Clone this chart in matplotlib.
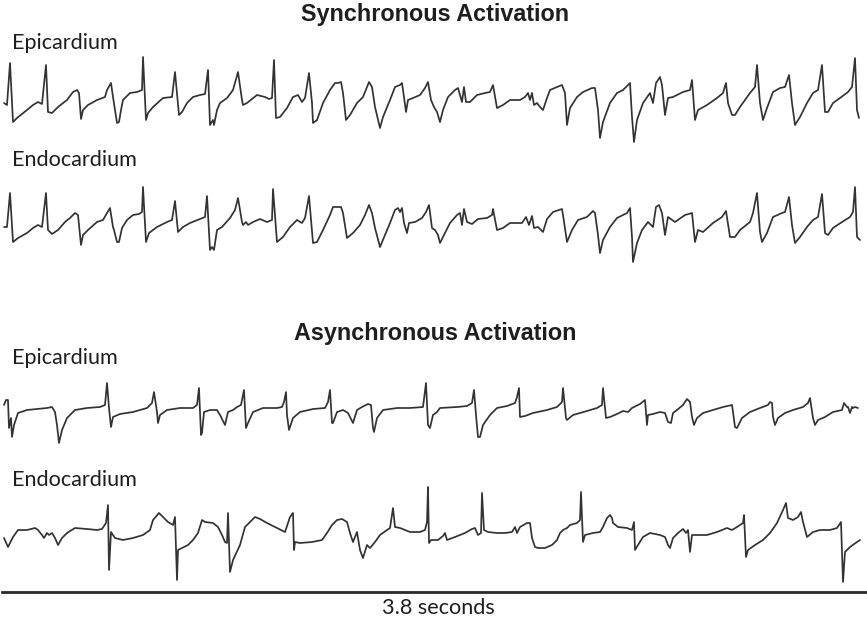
import matplotlib
matplotlib.use("Agg")
import matplotlib.pyplot as plt
from matplotlib.lines import Line2D

# ---------------------------------------------------------------------------
# Recorded electrograms (sample index, amplitude in arbitrary units)
# ---------------------------------------------------------------------------
sync_epi_t = [4, 7, 10, 13, 17, 27, 33, 38, 42, 46, 48, 52, 58, 67, 73, 77, 79, 81, 83, 88,
              97, 105, 107, 111, 113, 117, 119, 121, 123, 130, 137, 142, 143, 146, 148, 153,
              163, 172, 175, 179, 182, 187, 193, 200, 205, 208, 210, 213, 214, 217, 220, 227,
              233, 238, 242, 243, 247, 257, 265, 269, 272, 274, 276, 280, 287, 293, 298, 302,
              305, 309, 312, 313, 317, 323, 330, 335, 338, 341, 343, 346, 350, 357, 363, 367,
              369, 372, 375, 380, 383, 390, 395, 400, 402, 404, 406, 408, 413, 420, 425, 428,
              431, 434, 437, 440, 443, 448, 455, 458, 462, 464, 466, 470, 477, 485, 490, 493,
              497, 503, 510, 520, 525, 528, 530, 532, 534, 537, 540, 543, 547, 550, 557, 562,
              565, 567, 570, 577, 583, 592, 595, 598, 600, 603, 610, 617, 623, 630, 632, 634,
              637, 643, 650, 653, 656, 660, 662, 665, 668, 673, 683, 690, 692, 695, 698, 707,
              717, 723, 726, 728, 732, 735, 740, 750, 755, 757, 760, 763, 767, 773, 780, 785,
              789, 792, 795, 800, 807, 813, 818, 822, 825, 828, 833, 840, 848, 852, 855, 857,
              859]
sync_epi_v = [-3, -5, 37, -22, -18, -10, -5, -2, -4, 35, -12, -13, -7, 0, 8, 10, 7, -19, -10, -5,
              0, 3, 10, 17, 3, -23, -22, -10, 0, 7, 8, 10, 43, -20, -13, -7,
              2, 3, 28, -15, -12, -3, 3, 5, 6, 30, -25, -20, -25, -10, -3, 2,
              10, 28, 0, -5, -3, 5, 3, 1, 2, 40, -18, -17, -8, 3, 5, -2,
              2, 27, -3, -23, -20, -3, 10, 17, 17, 18, 7, -20, -15, -3, 3, 13,
              18, 13, -7, -28, -17, 0, 13, 15, 17, 3, -12, 0, 2, 5, 12, 18,
              0, -7, -12, -22, -10, 3, 10, 12, -2, 13, -2, -2, 5, 7, 8, 15,
              -8, -5, 0, 0, 3, 7, 0, 7, -5, -3, -7, -10, 2, 10, 13, 15,
              7, -25, -8, 3, 8, 12, 12, -10, -38, -22, -3, 7, 10, 17, -17, -42,
              -20, -3, 7, -3, 17, 23, 15, -15, 2, 3, 8, 10, 20, -20, -10, -5,
              2, 7, 17, -3, -15, -15, -7, 7, 13, 35, -3, -20, -8, 8, 12, 13,
              25, -3, -25, -17, -3, 7, 10, 35, -12, -12, -3, 2, 8, 13, 42, -10,
              -18]

sync_endo_t = [4, 7, 10, 13, 18, 27, 33, 38, 42, 46, 48, 52, 58, 65, 70, 75, 78, 81, 83, 88,
               97, 103, 107, 110, 113, 114, 117, 119, 122, 127, 133, 139, 142, 143, 146, 149,
               157, 167, 172, 175, 178, 183, 190, 200, 205, 207, 210, 212, 214, 217, 222, 230,
               235, 238, 242, 243, 246, 248, 253, 260, 267, 272, 273, 277, 283, 290, 297, 302,
               305, 309, 313, 317, 323, 330, 333, 338, 341, 343, 347, 353, 360, 365, 369, 372,
               375, 380, 385, 390, 395, 398, 400, 402, 404, 407, 409, 415, 422, 426, 429, 432,
               435, 438, 440, 443, 450, 457, 460, 462, 464, 467, 472, 478, 487, 492, 493, 497,
               503, 510, 522, 526, 529, 532, 534, 538, 543, 547, 553, 562, 563, 567, 572, 578,
               587, 593, 595, 598, 600, 603, 610, 617, 627, 630, 632, 633, 637, 642, 648, 653,
               656, 659, 662, 665, 668, 675, 685, 692, 695, 698, 703, 713, 722, 726, 730, 735,
               740, 750, 753, 757, 760, 762, 767, 773, 782, 785, 789, 792, 795, 800, 807, 813,
               818, 822, 825, 828, 833, 842, 850, 853, 855, 857, 860]
sync_endo_v = [-2, -2, 32, -17, -13, -8, -3, 0, -2, 32, -5, -9, -5, 3, 7, 12, 10, -20, -10, -5,
               3, 5, 12, 17, -2, -5, -17, -17, -3, 5, 10, 11, 13, 38, -17, -8,
               -2, 3, 5, 24, -7, -2, 2, 6, 8, 29, -25, -22, -25, -5, -2, 7,
               15, 27, 3, 0, 3, 0, 3, 6, 3, 5, 36, -17, -12, -2, 5, 2,
               7, 29, -18, -17, -5, 10, 18, 18, 18, 12, -13, -8, 0, 10, 20, 12,
               -3, -22, -10, 2, 15, 17, 13, 17, 2, -8, 2, 3, 7, 13, 20, -3,
               -5, -10, -18, -12, 2, 10, 12, 0, 16, 3, 1, 6, 7, 10, 16, -5,
               -3, 2, 2, 8, 0, 9, -3, -2, -7, 6, 13, 16, 10, -17, -5, 5,
               8, 14, 12, -10, -28, -15, -2, 7, 12, 17, -12, -37, -18, -5, 3, -2,
               18, 20, 12, -10, 8, 3, 10, 12, -17, -5, -7, 2, 8, 14, -12, -12,
               -5, 3, 12, 32, -7, -17, -8, 8, 12, 13, 28, 0, -18, -12, -2, 5,
               8, 31, -8, -10, -3, 3, 8, 13, 38, -12, -15]

async_epi_t = [4, 6, 8, 9, 11, 12, 14, 18, 27, 37, 47, 52, 55, 57, 59, 62, 67, 75, 87, 100,
               105, 107, 109, 111, 113, 120, 133, 147, 152, 154, 157, 158, 160, 167, 180, 193,
               197, 199, 201, 202, 204, 210, 217, 220, 225, 228, 233, 237, 241, 244, 246, 248,
               253, 263, 277, 282, 284, 286, 287, 289, 293, 300, 313, 325, 328, 330, 332, 333,
               337, 343, 348, 353, 357, 362, 368, 371, 373, 374, 377, 383, 397, 410, 423, 426,
               428, 430, 433, 437, 440, 457, 467, 472, 474, 476, 478, 480, 483, 490, 497, 507,
               515, 517, 519, 520, 525, 533, 547, 557, 562, 563, 566, 567, 573, 587, 597, 602,
               603, 606, 610, 617, 623, 628, 632, 640, 645, 647, 648, 653, 660, 665, 668, 671,
               673, 677, 683, 687, 690, 692, 694, 697, 703, 713, 723, 732, 733, 735, 737, 742,
               750, 760, 768, 770, 772, 773, 775, 778, 785, 793, 803, 808, 810, 813, 815, 818,
               825, 833, 842, 844, 847, 848, 850, 852, 853, 855, 858]
async_epi_v = [5, 10, 10, -18, -8, -27, -15, -3, 0, 1, 2, 3, -2, -15, -33, -20, -8, 0, 2, 3,
               5, 27, 2, -17, -7, -4, -2, 2, 7, 18, -2, -13, -5, 0, 2, 2,
               5, 22, -25, -23, -2, 0, 0, -5, -15, -2, 0, 3, 5, 20, -18, -13,
               -2, 2, 2, 3, 8, 18, -5, -20, -8, -2, 1, 2, 8, 20, -13, -13,
               -2, 0, -3, -13, 0, 3, 6, 5, -18, -22, -8, 0, 2, 2, 3, 27,
               -15, -18, -5, -2, 2, 3, 4, 7, 20, -5, -27, -27, -15, -5, 2, 4,
               7, 13, 22, -7, -6, -3, 0, 3, 8, 22, -8, -10, -5, -1, 2, 5,
               22, -8, -7, -4, -1, -2, 2, 6, 10, -15, -5, -4, -2, -3, -12, -13,
               -3, 0, 5, 11, 8, -7, -15, -8, -3, 0, 3, 5, -2, -17, -18, -8,
               -2, 2, 5, 8, 7, -7, -15, -8, -3, 0, 3, 7, 12, -8, -15, -10,
               -7, -2, 0, 7, 3, 3, -3, 3, 2, 3, 2]

async_endo_t = [4, 8, 13, 18, 27, 35, 38, 42, 44, 47, 49, 52, 55, 58, 62, 67, 75, 87, 97, 102,
                106, 108, 109, 111, 115, 123, 133, 143, 150, 153, 159, 163, 168, 173, 175, 177,
                178, 182, 188, 193, 198, 202, 205, 213, 218, 222, 225, 227, 228, 230, 233, 240,
                245, 250, 255, 260, 267, 277, 285, 290, 293, 294, 295, 300, 312, 322, 327, 332,
                337, 342, 347, 350, 353, 357, 360, 363, 367, 370, 375, 380, 387, 390, 393, 395,
                400, 410, 420, 425, 427, 428, 429, 431, 438, 443, 445, 447, 455, 465, 472, 475,
                478, 481, 482, 484, 488, 497, 505, 512, 515, 517, 520, 527, 530, 532, 535, 538,
                545, 552, 557, 560, 563, 567, 570, 577, 580, 581, 583, 585, 593, 600, 603, 607,
                610, 612, 613, 618, 627, 632, 634, 635, 638, 643, 650, 660, 665, 668, 670, 673,
                678, 683, 686, 688, 690, 692, 697, 707, 717, 727, 732, 737, 743, 744, 746, 748,
                755, 763, 770, 777, 783, 786, 788, 793, 798, 801, 803, 807, 813, 820, 830, 837,
                841, 843, 845, 850, 857, 860]
async_endo_v = [-8, -17, -7, 0, 0, 2, 0, -5, -8, -3, -5, -3, -8, -15, -8, -3, 2, 1, 0, 1,
                7, 25, -40, -2, -8, -10, -8, -5, 0, 10, 17, 13, 8, 5, 13, -50,
                -20, -18, -15, -10, -3, 10, 8, 7, 3, -5, -12, -13, 17, -42, -30, -15,
                3, 8, 13, 11, 7, 2, -2, 13, 17, -20, -12, -13, -12, -10, -3, 5,
                10, 11, 8, -3, -12, -2, -20, -28, -15, -18, -12, -5, 0, 2, 22, 3,
                2, -2, -2, 0, 8, 43, -13, -10, -10, -6, -3, -10, -7, -3, 1, 2,
                -5, -3, 37, 0, -2, -3, -3, -2, 3, -3, 3, 7, 7, -8, -17, -18,
                -18, -15, -10, -3, 0, 2, 5, 7, 10, 38, -12, -5, -3, -2, 3, 12,
                15, 12, 7, 3, 2, 0, 8, -20, -15, -7, -3, -5, -7, -15, -18, -8,
                -3, 1, -3, 0, -22, -5, -5, -5, -2, 2, 0, 3, 7, 15, -27, -20,
                -15, -10, -3, 7, 20, 27, 12, 10, 13, 18, 8, -7, -2, 0, 0, 2,
                8, -52, -22, -17, -12, -10]

section_titles = ["Synchronous Activation", "Asynchronous Activation"]
site_labels = ["Epicardium", "Endocardium", "Epicardium", "Endocardium"]
duration_label = "3.8 seconds"

# ---------------------------------------------------------------------------
# Figure layout (pixel geometry of a 867 x 621 canvas)
# ---------------------------------------------------------------------------
W, H = 867, 621
fig = plt.figure(figsize=(W / 100, H / 100), dpi=100)
fig.patch.set_facecolor("white")

TRACE_COLOR = "#333333"
LABEL_FONT = ["Lato", "DejaVu Sans"]
TITLE_FONT = ["Liberation Sans", "DejaVu Sans"]


def trace_axes(top_px, bottom_px, baseline_px):
    ax = fig.add_axes([0, 1 - bottom_px / H, 1, (bottom_px - top_px) / H])
    ax.set_xlim(0, W)
    ax.set_ylim(baseline_px - bottom_px, baseline_px - top_px)
    ax.axis("off")
    return ax


traces = [
    (sync_epi_t, sync_epi_v, (45, 150, 100)),
    (sync_endo_t, sync_endo_v, (170, 275, 225)),
    (async_epi_t, async_epi_v, (370, 455, 410)),
    (async_endo_t, async_endo_v, (480, 590, 530)),
]
for t, v, (top, bottom, base) in traces:
    ax = trace_axes(top, bottom, base)
    ax.plot(t, v, color=TRACE_COLOR, lw=1.25, solid_joinstyle="round",
            solid_capstyle="round")


def fx(px):
    return px / W


def fy(py):
    return 1 - py / H


# Section headings
for title, ypx in zip(section_titles, [15, 333]):
    fig.text(fx(435), fy(ypx), title, ha="center", va="center",
             fontsize=16.8, fontweight="bold", family=TITLE_FONT, color="#1e1e1e")

# Recording-site labels
for label, ypx in zip(site_labels, [43, 160, 358, 480]):
    fig.text(fx(12), fy(ypx), label, ha="left", va="center",
             fontsize=15.6, family=LABEL_FONT, color="#1e1e1e")

# Time scale bar
fig.add_artist(Line2D([fx(2), fx(866)], [fy(592), fy(592)],
                      color="#2a2a2a", lw=2.0, transform=fig.transFigure))
fig.text(fx(438), fy(608), duration_label, ha="center", va="center",
         fontsize=15.6, family=LABEL_FONT, color="#1e1e1e")

fig.savefig("out.png", dpi=100, facecolor="white")
